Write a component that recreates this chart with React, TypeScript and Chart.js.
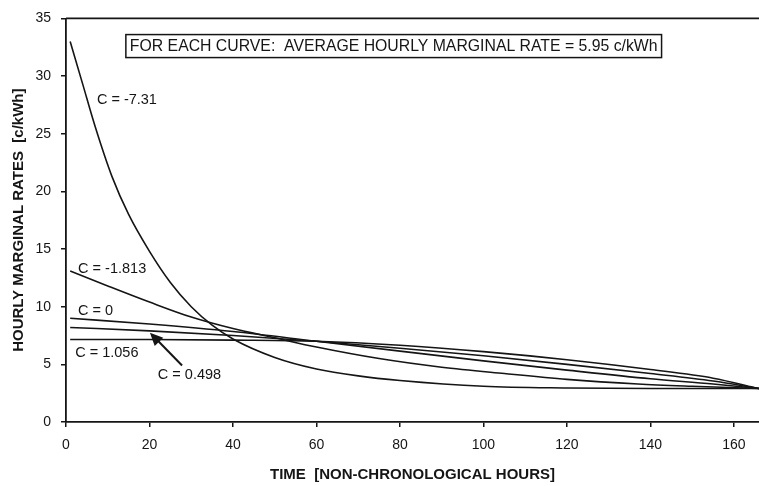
import { useEffect, useRef } from "react";
import { Chart, registerables } from "chart.js";

Chart.register(...registerables);

// ---- data ----
const xTicks = [0, 20, 40, 60, 80, 100, 120, 140, 160];
const xMax = 166;
const yMax = 35;
const yTickStep = 5;

const seriesNames = ["C = -7.31", "C = -1.813", "C = 0", "C = 0.498", "C = 1.056"];

const xCm731 = [1, 4, 7, 11, 15, 20, 25, 30, 35, 40, 50, 60, 70, 80, 100, 120, 140, 166];
const yCm731 = [33, 29.3, 25.6, 21.3, 18.0, 14.8, 12.1, 10.0, 8.4, 7.2, 5.6, 4.6, 4.0, 3.6, 3.1, 2.95, 2.9, 2.9];

const xCm1813 = [1, 10, 20, 30, 40, 50, 60, 75, 90, 105, 120, 137, 150, 166];
const yCm1813 = [13.1, 11.8, 10.4, 9.1, 8.1, 7.3, 6.5, 5.5, 4.75, 4.2, 3.7, 3.3, 3.1, 2.9];

const xCommon = [1, 20, 40, 60, 80, 100, 120, 140, 155, 166];
const yC0 = [9.0, 8.5, 7.85, 7.0, 6.15, 5.3, 4.5, 3.75, 3.3, 2.9];
const yC0498 = [8.2, 7.9, 7.5, 7.0, 6.4, 5.75, 5.0, 4.2, 3.55, 2.9];
const yC1056 = [7.15, 7.15, 7.1, 7.0, 6.65, 6.1, 5.4, 4.55, 3.8, 2.9];

const boxText = "FOR EACH CURVE:  AVERAGE HOURLY MARGINAL RATE = 5.95 c/kWh";
const xTitle = "TIME  [NON-CHRONOLOGICAL HOURS]";
const yTitle = "HOURLY MARGINAL RATES  [c/kWh]";

// label anchors in data coordinates
const labelX = [7.4, 2.9, 2.9, 22, 2.2];
const labelY = [27.9, 13.3, 9.6, 4.1, 5.95];
const arrowFrom = [27.8, 4.9];
const arrowTo = [20.1, 7.75];
const boxCenter = [78.5, 32.6];

const FONT = '"Liberation Sans", Arial, sans-serif';
const INK = "#151515";

function toPts(xs: number[], ys: number[]) {
  return xs.map((x, i) => ({ x, y: ys[i] }));
}

const annotPlugin = {
  id: "annot",
  afterDatasetsDraw(chart: any) {
    const { ctx, chartArea, scales } = chart;
    const xs = scales.x;
    const ys = scales.y;
    ctx.save();
    // top frame line
    ctx.strokeStyle = INK;
    ctx.lineWidth = 1.6;
    ctx.beginPath();
    ctx.moveTo(chartArea.left, chartArea.top);
    ctx.lineTo(chartArea.right, chartArea.top);
    ctx.stroke();

    // curve labels
    ctx.font = "14.5px " + FONT;
    ctx.fillStyle = INK;
    ctx.textAlign = "left";
    ctx.textBaseline = "middle";
    seriesNames.forEach((t, i) => {
      ctx.fillText(t, xs.getPixelForValue(labelX[i]), ys.getPixelForValue(labelY[i]));
    });

    // arrow
    const ax0 = xs.getPixelForValue(arrowFrom[0]);
    const ay0 = ys.getPixelForValue(arrowFrom[1]);
    const ax1 = xs.getPixelForValue(arrowTo[0]);
    const ay1 = ys.getPixelForValue(arrowTo[1]);
    const ang = Math.atan2(ay1 - ay0, ax1 - ax0);
    const headLen = 13;
    const headW = 6;
    ctx.lineWidth = 2;
    ctx.beginPath();
    ctx.moveTo(ax0, ay0);
    ctx.lineTo(ax1 - Math.cos(ang) * headLen * 0.8, ay1 - Math.sin(ang) * headLen * 0.8);
    ctx.stroke();
    ctx.beginPath();
    ctx.moveTo(ax1, ay1);
    ctx.lineTo(
      ax1 - Math.cos(ang) * headLen + Math.sin(ang) * headW,
      ay1 - Math.sin(ang) * headLen - Math.cos(ang) * headW
    );
    ctx.lineTo(
      ax1 - Math.cos(ang) * headLen - Math.sin(ang) * headW,
      ay1 - Math.sin(ang) * headLen + Math.cos(ang) * headW
    );
    ctx.closePath();
    ctx.fill();

    // box with text
    ctx.font = "15.8px " + FONT;
    const cx = xs.getPixelForValue(boxCenter[0]);
    const cy = ys.getPixelForValue(boxCenter[1]);
    const w = ctx.measureText(boxText).width;
    const bw = w + 8;
    const bh = 23;
    ctx.fillStyle = "#ffffff";
    ctx.fillRect(cx - bw / 2, cy - bh / 2, bw, bh);
    ctx.lineWidth = 1.5;
    ctx.strokeRect(cx - bw / 2, cy - bh / 2, bw, bh);
    ctx.fillStyle = INK;
    ctx.textAlign = "center";
    ctx.fillText(boxText, cx, cy + 1);
    ctx.restore();
  },
};

export default function App() {
  const ref = useRef<HTMLCanvasElement | null>(null);

  useEffect(() => {
    document.body.style.margin = "0";
    if (!ref.current) return;
    const lineStyle = {
      showLine: true,
      borderColor: INK,
      backgroundColor: INK,
      borderWidth: 1.6,
      pointRadius: 0,
      cubicInterpolationMode: "monotone" as const,
      fill: false,
    };
    const chart = new Chart(ref.current, {
      type: "scatter",
      data: {
        datasets: [
          { label: seriesNames[0], data: toPts(xCm731, yCm731), ...lineStyle },
          { label: seriesNames[1], data: toPts(xCm1813, yCm1813), ...lineStyle },
          { label: seriesNames[2], data: toPts(xCommon, yC0), ...lineStyle },
          { label: seriesNames[3], data: toPts(xCommon, yC0498), ...lineStyle },
          { label: seriesNames[4], data: toPts(xCommon, yC1056), ...lineStyle },
        ],
      },
      options: {
        animation: false,
        responsive: false,
        devicePixelRatio: 1,
        layout: { padding: { top: 16, right: 0, left: 0, bottom: 0 } },
        plugins: {
          legend: { display: false },
          tooltip: { enabled: false },
          title: { display: false },
        },
        scales: {
          x: {
            type: "linear",
            min: 0,
            max: xMax,
            afterBuildTicks: (s: any) => {
              s.ticks = xTicks.map((v) => ({ value: v }));
            },
            afterFit: (s: any) => {
              s.height = 64;
            },
            ticks: {
              color: INK,
              font: { family: FONT, size: 14 },
              padding: 10,
              maxRotation: 0,
              autoSkip: false,
            },
            grid: {
              drawOnChartArea: false,
              color: INK,
              tickLength: 5,
              lineWidth: 1.5,
            },
            border: { color: INK, width: 1.8 },
            title: {
              display: true,
              text: xTitle,
              color: INK,
              font: { family: FONT, size: 15, weight: "bold" },
              padding: { top: 0, bottom: 2 },
            },
          },
          y: {
            type: "linear",
            min: 0,
            max: yMax,
            afterFit: (s: any) => {
              s.width = 66;
            },
            ticks: {
              stepSize: yTickStep,
              color: INK,
              font: { family: FONT, size: 14 },
              padding: 10,
            },
            grid: {
              drawOnChartArea: false,
              color: INK,
              tickLength: 5,
              lineWidth: 1.5,
            },
            border: { color: INK, width: 1.8 },
            title: {
              display: true,
              text: yTitle,
              color: INK,
              font: { family: FONT, size: 15, weight: "bold" },
              padding: { top: 10, bottom: 0 },
            },
          },
        },
      },
      plugins: [annotPlugin],
    });
    return () => chart.destroy();
  }, []);

  return (
    <div style={{ position: "absolute", left: 0, top: 0, width: 759, height: 486, background: "#fff" }}>
      <canvas ref={ref} width={759} height={486} style={{ width: 759, height: 486, display: "block" }} />
    </div>
  );
}
